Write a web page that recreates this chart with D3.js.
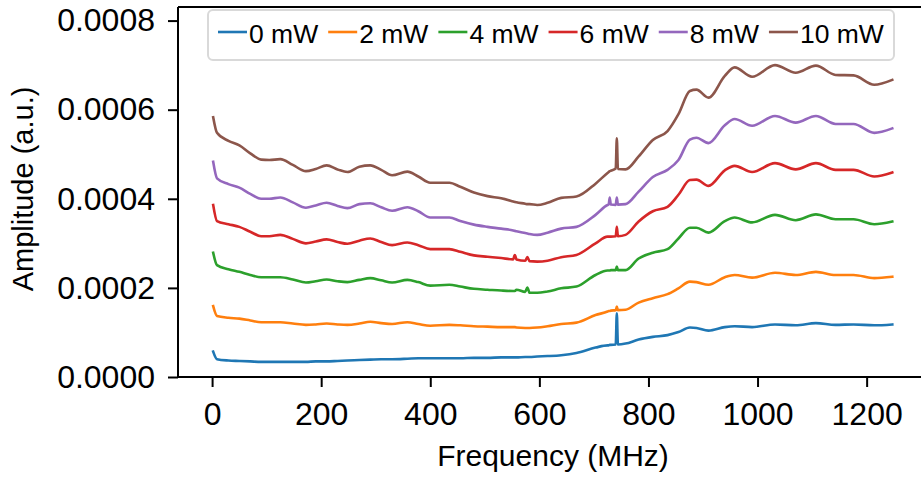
<!DOCTYPE html>
<html>
<head>
<meta charset="utf-8">
<script src="https://cdn.jsdelivr.net/npm/d3@7"></script>
<style>
  html, body { margin: 0; padding: 0; background: #fff; }
  svg { display: block; font-family: "Liberation Sans", Arial, Helvetica, sans-serif; }
</style>
</head>
<body>
<div id="chart"></div>
<script>
//-----------------------------DATA-----------------------------//
// frequency grid (MHz), amplitudes given in units of 1e-6 a.u.
const freqMHz = [2, 9, 30, 50, 70, 90, 105, 125, 148, 172, 190, 210, 230, 248, 270, 290, 310, 330, 358, 378,
  400, 435, 455, 480, 505, 530, 552, 555, 558, 574, 578, 582, 596, 615, 640, 668, 703, 725, 727, 729,
  731, 740, 742, 744, 758, 782, 808, 835, 855, 876, 888, 910, 940, 958, 990, 1032, 1070, 1107, 1143, 1176,
  1214, 1247];

const amp0mW = [57, 40, 37, 36, 35, 34, 34, 34, 34, 34, 35, 35, 36, 37, 38, 39, 40, 40, 41, 42,
  42, 42, 42, 43, 43, 44, 44, 44, 44, 45, 45, 45, 46, 47, 49, 54, 66, 71, 71, 72,
  72, 73, 143, 73, 75, 84, 90, 94, 101, 111, 110, 104, 112, 114, 112, 118, 116, 121, 117, 118,
  116, 118];

const amp2mW = [159, 137, 133, 131, 127, 123, 123, 123, 120, 117, 118, 120, 118, 117, 120, 124, 121, 119, 123, 119,
  115, 117, 116, 114, 113, 112, 112, 112, 111, 110, 110, 110, 111, 114, 119, 122, 139, 147, 148, 148,
  149, 150, 158, 150, 151, 167, 177, 186, 199, 214, 213, 207, 224, 229, 223, 234, 229, 236, 229, 229,
  222, 225];

const amp4mW = [279, 251, 242, 236, 229, 224, 224, 224, 219, 212, 215, 219, 215, 213, 218, 222, 217, 212, 218, 213,
  205, 207, 203, 198, 196, 194, 193, 193, 196, 191, 201, 189, 189, 192, 199, 203, 229, 239, 239, 239,
  240, 240, 248, 240, 240, 266, 279, 287, 311, 335, 335, 324, 350, 358, 347, 364, 352, 365, 354, 354,
  343, 349];

const amp6mW = [386, 350, 343, 337, 326, 316, 316, 319, 310, 300, 304, 309, 303, 299, 306, 311, 303, 296, 302, 296,
  287, 287, 281, 273, 270, 267, 264, 274, 264, 261, 269, 260, 259, 261, 269, 274, 300, 315, 315, 315,
  315, 316, 337, 316, 319, 349, 372, 382, 409, 442, 443, 429, 464, 474, 460, 480, 466, 480, 465, 465,
  450, 459];

const amp8mW = [483, 446, 433, 425, 411, 400, 400, 403, 392, 380, 385, 391, 384, 379, 388, 390, 381, 373, 381, 372,
  358, 358, 350, 342, 337, 333, 329, 328, 327, 323, 322, 321, 319, 324, 333, 337, 364, 386, 387, 403,
  387, 386, 403, 387, 388, 416, 449, 465, 487, 533, 537, 525, 565, 579, 564, 586, 571, 586, 568, 568,
  548, 558];

const amp10mW = [583, 548, 530, 520, 502, 488, 487, 489, 476, 462, 467, 475, 466, 460, 472, 475, 465, 453, 461, 450,
  436, 436, 427, 414, 406, 401, 394, 393, 392, 389, 388, 388, 386, 391, 402, 405, 434, 458, 460, 462,
  463, 468, 536, 467, 466, 495, 532, 552, 590, 642, 645, 627, 676, 695, 674, 700, 683, 699, 678, 677,
  656, 667];

const seriesLabels = ["0 mW", "2 mW", "4 mW", "6 mW", "8 mW", "10 mW"];
const seriesColors = ["#1f77b4", "#ff7f0e", "#2ca02c", "#d62728", "#9467bd", "#8c564b"];
const xTicks = [0, 200, 400, 600, 800, 1000, 1200];
const yTicks = [0, 0.0002, 0.0004, 0.0006, 0.0008];

//-----------------------------SVG------------------------------//
const width = 921;
const height = 477;
const plotLeft = 178;
const plotTop = 7;
const plotBottom = 377;

const svg = d3.select("#chart").append("svg")
  .attr("width", width)
  .attr("height", height);

//----------------------------SCALES----------------------------//
const xScale = d3.scaleLinear().domain([-62.5, 1312.5]).range([plotLeft, plotLeft + 750]);
const yScale = d3.scaleLinear().domain([0, 0.0008305]).range([plotBottom, plotTop]);

const slices = [amp0mW, amp2mW, amp4mW, amp6mW, amp8mW, amp10mW].map(function(arr, i) {
  return {
    id: seriesLabels[i],
    color: seriesColors[i],
    values: freqMHz.map(function(f, j) { return { freq: f, amp: arr[j] * 1e-6 }; })
  };
});

//----------------------------LINES-----------------------------//
const line = d3.line()
  .curve(d3.curveMonotoneX)
  .x(function(d) { return xScale(d.freq); })
  .y(function(d) { return yScale(d.amp); });

svg.append("g")
  .selectAll("path")
  .data(slices)
  .enter()
  .append("path")
  .attr("d", function(d) { return line(d.values); })
  .style("fill", "none")
  .style("stroke", function(d) { return d.color; })
  .style("stroke-width", 2.6)
  .style("stroke-linejoin", "round")
  .style("stroke-linecap", "square");

//-----------------------------AXES-----------------------------//
const xaxis = d3.axisBottom(xScale)
  .tickValues(xTicks)
  .tickSize(10)
  .tickPadding(15)
  .tickFormat(d3.format("d"));

const yaxis = d3.axisLeft(yScale)
  .tickValues(yTicks)
  .tickSize(10)
  .tickPadding(13)
  .tickFormat(d3.format(".4f"));

const gx = svg.append("g")
  .attr("transform", "translate(0," + plotBottom + ")")
  .call(xaxis);

const gy = svg.append("g")
  .attr("transform", "translate(" + plotLeft + ",0)")
  .call(yaxis);

[gx, gy].forEach(function(g) {
  g.select(".domain").remove();
  g.selectAll(".tick line").style("stroke", "#000").style("stroke-width", 2);
  g.selectAll(".tick text")
    .style("fill", "#000")
    .style("font-size", "32px")
    .style("font-family", "'Liberation Sans', Arial, sans-serif");
});

// spines (right one falls outside the picture)
svg.append("path")
  .attr("d", "M" + plotLeft + "," + plotTop + "V" + plotBottom + "H" + width
    + "M" + plotLeft + "," + plotTop + "H" + width)
  .style("fill", "none")
  .style("stroke", "#000")
  .style("stroke-width", 2);

//----------------------------LABELS----------------------------//
svg.append("text")
  .attr("x", 553)
  .attr("y", 466)
  .attr("text-anchor", "middle")
  .style("font-size", "30px")
  .text("Frequency (MHz)");

svg.append("text")
  .attr("transform", "translate(33,189) rotate(-90)")
  .attr("text-anchor", "middle")
  .style("font-size", "29px")
  .text("Amplitude (a.u.)");

//----------------------------LEGEND----------------------------//
const legend = svg.append("g");

legend.append("rect")
  .attr("x", 208)
  .attr("y", 10)
  .attr("width", 686)
  .attr("height", 50)
  .attr("rx", 5)
  .style("fill", "#fff")
  .style("fill-opacity", 0.8)
  .style("stroke", "#d9d9d9")
  .style("stroke-width", 2);

let cursor = 218;
slices.forEach(function(s) {
  legend.append("line")
    .attr("x1", cursor)
    .attr("x2", cursor + 29)
    .attr("y1", 32)
    .attr("y2", 32)
    .style("stroke", s.color)
    .style("stroke-width", 2.6);
  const t = legend.append("text")
    .attr("x", cursor + 31)
    .attr("y", 42.5)
    .style("font-size", "26.5px")
    .text(s.id);
  cursor = cursor + 31 + t.node().getComputedTextLength() + 10;
});
</script>
</body>
</html>
